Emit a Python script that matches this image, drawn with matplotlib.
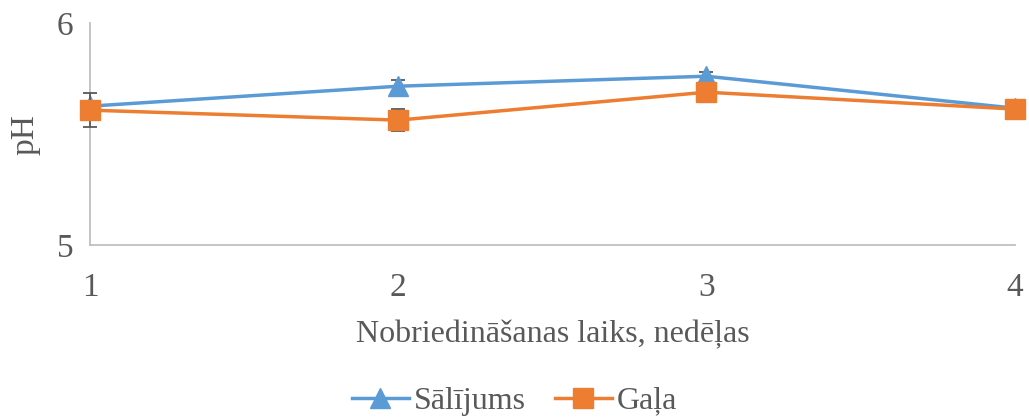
import matplotlib
matplotlib.use("Agg")
import matplotlib.pyplot as plt
from matplotlib.lines import Line2D

weeks = [1, 2, 3, 4]
salijums = [5.626, 5.716, 5.761, 5.617]
salijums_err = [0.02, 0.027, 0.02, 0.01]
gala = [5.608, 5.563, 5.689, 5.613]
gala_err = [0.076, 0.05, 0.01, 0.01]

plt.rcParams['font.family'] = ['Liberation Serif', 'DejaVu Serif']
txt = '#595959'
blue = '#5B9BD5'
orange = '#ED7D31'

fig = plt.figure(figsize=(10.29, 4.2), dpi=100)
ax = fig.add_axes([0.0875, 0.4167, 0.8985, 0.528])

ax.errorbar(weeks, salijums, yerr=salijums_err, color=blue, lw=2.5,
            marker='^', ms=15, ecolor='#595959', elinewidth=1.3, capsize=5,
            capthick=1.3, zorder=3, clip_on=False)
ax.errorbar(weeks, gala, yerr=gala_err, color=orange, lw=2.5,
            marker='s', ms=15, ecolor='#595959', elinewidth=1.3, capsize=5,
            capthick=1.3, zorder=4, clip_on=False)

ax.set_xlim(1, 4)
ax.set_ylim(5, 6)
ax.set_xticks(weeks)
ax.set_yticks([5, 6])
for s in ['top', 'right']:
    ax.spines[s].set_visible(False)
for s in ['left', 'bottom']:
    ax.spines[s].set_color('#bfbfbf')
    ax.spines[s].set_linewidth(1.3)
ax.tick_params(length=0, labelsize=24, colors=txt)
ax.tick_params(axis='x', pad=20)
ax.tick_params(axis='y', pad=12)
ax.set_xlabel('Nobriedināšanas laiks, nedēļas', fontsize=23, color=txt, labelpad=12)
ax.set_ylabel('pH', fontsize=24, color=txt)
ax.yaxis.set_label_coords(-0.054, 0.5)

handles = [Line2D([], [], color=blue, lw=2.5, marker='^', ms=15),
           Line2D([], [], color=orange, lw=2.5, marker='s', ms=15)]
labels = ['Sālījums', 'Gaļa']
fig.legend(handles, labels, loc='center', bbox_to_anchor=(0.5, 0.045),
           ncol=2, frameon=False, handlelength=1.8,
           prop={'family': ['Liberation Serif', 'DejaVu Serif'], 'size': 23},
           columnspacing=0.9, handletextpad=0.15, labelcolor=txt)

fig.savefig('out.png', dpi=100)
